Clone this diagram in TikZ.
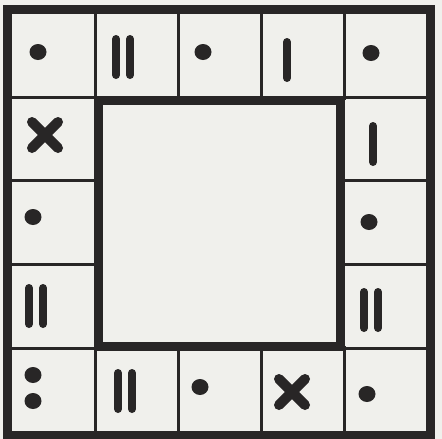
\documentclass[tikz,border=0pt]{standalone}
\definecolor{ink}{RGB}{40,38,38}
\definecolor{paper}{RGB}{240,240,236}
\tikzset{
  frame/.style={draw=ink, line width=9pt},
  cellline/.style={draw=ink, line width=3pt},
  barline/.style={draw=ink, line width=8pt, line cap=round},
  crossline/.style={draw=ink, line width=10pt, line cap=round},
  dotfill/.style={fill=ink},
  pics/onebar/.style={code={\draw[barline] (0,-18) -- (0,18);}},
  pics/twobar/.style={code={\draw[barline] (-7,-18) -- (-7,18); \draw[barline] (7,-18) -- (7,18);}},
  pics/crosssym/.style={code={\draw[crossline] (-13,-13) -- (13,13); \draw[crossline] (-13,13) -- (13,-13);}},
  pics/dotsym/.style={code={\fill[dotfill] (0,0) ellipse [x radius=8.5, y radius=8];}},
  pics/colonsym/.style={code={\fill[dotfill] (0,-13) ellipse [x radius=8.5, y radius=8]; \fill[dotfill] (0,13) ellipse [x radius=8.5, y radius=8];}},
}
\begin{document}
\begin{tikzpicture}[x=1pt,y=-1pt]
\useasboundingbox (0,0) rectangle (442,439);
\fill[paper] (0,0) rectangle (442,439);
% cell lines
\foreach \x in {95,178,261,344} {
  \draw[cellline] (\x,9) -- (\x,100);
  \draw[cellline] (\x,346) -- (\x,435);
}
\foreach \y in {97,180,264,348} {
  \draw[cellline] (7,\y) -- (98,\y);
  \draw[cellline] (340,\y) -- (430,\y);
}
\draw[cellline] (7,97) -- (430,97);
\draw[cellline] (7,348) -- (430,348);
% frames
\draw[frame] (7,9) rectangle (430,435);
\draw[frame] (98,100) rectangle (340,346);
% top row
\pic at (38,52) {dotsym};
\pic at (123,57) {twobar};
\pic at (203,52) {dotsym};
\pic at (287,60) {onebar};
\pic at (371,53) {dotsym};
% left column
\pic at (45,135) {crosssym};
\pic at (33,217) {dotsym};
\pic at (36,306) {twobar};
% right column
\pic at (373,144) {onebar};
\pic at (369,222) {dotsym};
\pic at (371,310) {twobar};
% bottom row
\pic at (33,388) {colonsym};
\pic at (125,391) {twobar};
\pic at (200,387) {dotsym};
\pic at (292,392) {crosssym};
\pic at (367,394) {dotsym};
\end{tikzpicture}
\end{document}
